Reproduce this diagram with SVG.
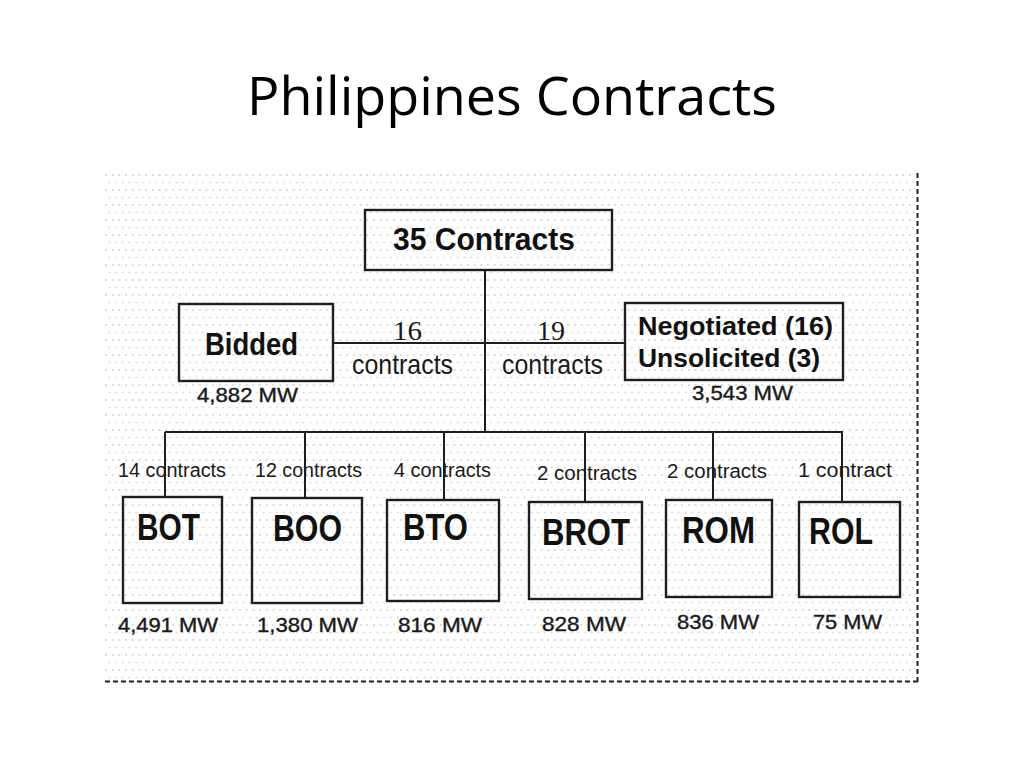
<svg xmlns="http://www.w3.org/2000/svg" width="1024" height="768" viewBox="0 0 1024 768">
<style>
.box{fill:#fff;fill-opacity:0;stroke:#1e1e1e;stroke-width:2.4}
.ln{stroke:#1e1e1e;stroke-width:2;fill:none}
.b{font-family:"Liberation Sans",Arial,sans-serif;font-weight:bold;fill:#111}
.r{font-family:"Liberation Sans",Arial,sans-serif;fill:#1a1a1a}
.s{font-family:"Liberation Serif","Times New Roman",serif;fill:#1a1a1a}
.title{font-family:"Open Sans","Liberation Sans",sans-serif;fill:#000}
.cnt{font-size:20px}
.mw{font-size:21px;stroke:#1a1a1a;stroke-width:0.4}
.lbl{font-size:36px}
.dash{stroke:#222;stroke-width:2;stroke-dasharray:5 3;fill:none}
</style>
<defs>
<pattern id="dots" x="105" y="174" width="13.4" height="15" patternUnits="userSpaceOnUse">
<circle cx="1" cy="1" r="0.9" fill="#cdcdcd"/>
<circle cx="7.7" cy="1" r="0.9" fill="#cdcdcd"/>
<circle cx="4.35" cy="8.5" r="0.9" fill="#d6d6d6"/>
<circle cx="11.05" cy="8.5" r="0.9" fill="#d6d6d6"/>
</pattern>
</defs>
<rect width="1024" height="768" fill="#fff"/>
<text class="title" x="247" y="115" font-size="53" textLength="530" lengthAdjust="spacingAndGlyphs">Philippines Contracts</text>
<g id="frame">
<rect x="105" y="173" width="811" height="506" fill="url(#dots)"/>
<line class="dash" x1="917.5" y1="173" x2="917.5" y2="682"/>
<line class="dash" x1="105" y1="681.5" x2="918" y2="681.5"/>
</g>
<g id="connectors">
<line class="ln" x1="485" y1="270" x2="485" y2="432"/>
<line class="ln" x1="333" y1="343" x2="625" y2="343"/>
<line class="ln" x1="165" y1="432" x2="843" y2="432"/>
<line class="ln" x1="165" y1="432" x2="165" y2="497"/>
<line class="ln" x1="305" y1="432" x2="305" y2="498"/>
<line class="ln" x1="444" y1="432" x2="444" y2="500"/>
<line class="ln" x1="585" y1="432" x2="585" y2="502"/>
<line class="ln" x1="713" y1="432" x2="713" y2="500"/>
<line class="ln" x1="842" y1="432" x2="842" y2="502"/>
<text class="s" x="393" y="340" font-size="28" textLength="29" lengthAdjust="spacingAndGlyphs">16</text>
<text class="r" x="352" y="374" font-size="28" textLength="101" lengthAdjust="spacingAndGlyphs">contracts</text>
<text class="s" x="537" y="340" font-size="28" textLength="28" lengthAdjust="spacingAndGlyphs">19</text>
<text class="r" x="502" y="374" font-size="28" textLength="101" lengthAdjust="spacingAndGlyphs">contracts</text>
<text class="r cnt" x="118" y="477" textLength="108" lengthAdjust="spacingAndGlyphs">14 contracts</text>
<text class="r cnt" x="255" y="477" textLength="107" lengthAdjust="spacingAndGlyphs">12 contracts</text>
<text class="r cnt" x="394" y="477" textLength="97" lengthAdjust="spacingAndGlyphs">4 contracts</text>
<text class="r cnt" x="537" y="480" textLength="100" lengthAdjust="spacingAndGlyphs">2 contracts</text>
<text class="r cnt" x="667" y="478" textLength="100" lengthAdjust="spacingAndGlyphs">2 contracts</text>
<text class="r cnt" x="798" y="477" textLength="94" lengthAdjust="spacingAndGlyphs">1 contract</text>
</g>
<g id="n-total">
<rect class="box" x="365" y="210" width="247" height="60"/>
<text class="b" x="393" y="250" font-size="32" textLength="182" lengthAdjust="spacingAndGlyphs">35 Contracts</text>
</g>
<g id="n-bidded">
<rect class="box" x="179" y="304" width="154" height="77"/>
<text class="b" x="205" y="355" font-size="32" textLength="93" lengthAdjust="spacingAndGlyphs">Bidded</text>
<text class="r mw" x="197" y="402" textLength="101" lengthAdjust="spacingAndGlyphs">4,882 MW</text>
</g>
<g id="n-negotiated">
<rect class="box" x="625" y="303" width="218" height="77"/>
<text class="b" x="638" y="335" font-size="25" textLength="195" lengthAdjust="spacingAndGlyphs">Negotiated (16)</text>
<text class="b" x="638" y="367" font-size="25" textLength="182" lengthAdjust="spacingAndGlyphs">Unsolicited (3)</text>
<text class="r mw" x="692" y="400" textLength="101" lengthAdjust="spacingAndGlyphs">3,543 MW</text>
</g>
<g id="n-bot">
<rect class="box" x="123" y="497" width="99" height="106"/>
<text class="b lbl" x="137" y="540" textLength="63" lengthAdjust="spacingAndGlyphs">BOT</text>
<text class="r mw" x="118" y="632" textLength="100" lengthAdjust="spacingAndGlyphs">4,491 MW</text>
</g>
<g id="n-boo">
<rect class="box" x="252" y="498" width="110" height="105"/>
<text class="b lbl" x="273" y="541" textLength="69" lengthAdjust="spacingAndGlyphs">BOO</text>
<text class="r mw" x="257" y="632" textLength="101" lengthAdjust="spacingAndGlyphs">1,380 MW</text>
</g>
<g id="n-bto">
<rect class="box" x="387" y="500" width="112" height="101"/>
<text class="b lbl" x="403" y="540" textLength="65" lengthAdjust="spacingAndGlyphs">BTO</text>
<text class="r mw" x="398" y="632" textLength="84" lengthAdjust="spacingAndGlyphs">816 MW</text>
</g>
<g id="n-brot">
<rect class="box" x="529" y="502" width="113" height="97"/>
<text class="b lbl" x="542" y="545" textLength="88" lengthAdjust="spacingAndGlyphs">BROT</text>
<text class="r mw" x="542" y="631" textLength="84" lengthAdjust="spacingAndGlyphs">828 MW</text>
</g>
<g id="n-rom">
<rect class="box" x="666" y="500" width="106" height="97"/>
<text class="b lbl" x="682" y="543" textLength="73" lengthAdjust="spacingAndGlyphs">ROM</text>
<text class="r mw" x="677" y="629" textLength="82" lengthAdjust="spacingAndGlyphs">836 MW</text>
</g>
<g id="n-rol">
<rect class="box" x="799" y="502" width="101" height="95"/>
<text class="b lbl" x="809" y="544" textLength="64" lengthAdjust="spacingAndGlyphs">ROL</text>
<text class="r mw" x="813" y="629" textLength="69" lengthAdjust="spacingAndGlyphs">75 MW</text>
</g>
</svg>
